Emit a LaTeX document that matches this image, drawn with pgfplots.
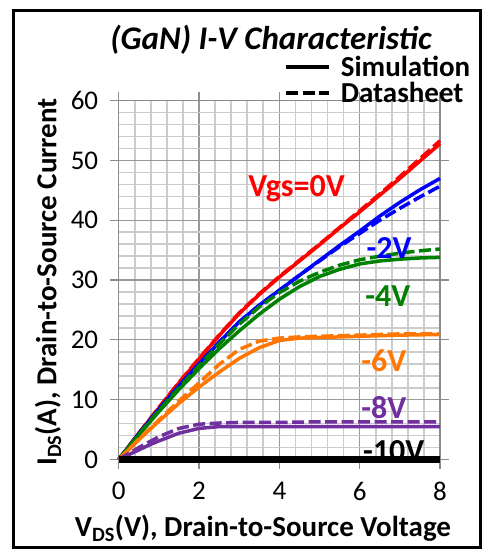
\documentclass[border=0pt]{standalone}
\usepackage{fontspec}
\setmainfont{Carlito}
\usepackage{pgfplots}
\pgfplotsset{compat=1.18}
\definecolor{cRed}{RGB}{255,0,0}
\definecolor{cBlue}{RGB}{0,0,255}
\definecolor{cGreen}{RGB}{0,128,0}
\definecolor{cOrange}{RGB}{255,118,0}
\definecolor{cPurple}{RGB}{112,48,160}
\tikzset{sim/.style={line width=3.5bp}, dat/.style={line width=3.5bp, dash pattern=on 12bp off 4.5bp}}
\begin{document}
\begin{tikzpicture}
\useasboundingbox (0bp,0bp) rectangle (483bp,549bp);
\draw[line width=3bp] (13.5bp,1.5bp) rectangle (480bp,538.5bp);
\begin{axis}[
  at={(118.7bp,89.5bp)}, anchor=south west,
  scale only axis, width=321.3bp, height=358.8bp,
  xmin=0, xmax=8, ymin=0, ymax=60,
  xtick={0,2,4,6,8}, ytick={0,10,20,30,40,50,60},
  minor x tick num=4, minor y tick num=4,
  grid=both,
  major grid style={draw=black!40, line width=1.2bp},
  minor grid style={draw=black!20, line width=1.6bp},
  axis line style={draw=black!45, line width=1.2bp},
  tick align=outside, major tick length=9bp, minor tick length=0bp,
  tick style={draw=black!45, line width=1.2bp},
  /pgf/number format/assume math mode=true,
  ticklabel style={font=\fontsize{27bp}{30bp}\selectfont},
  xticklabel style={yshift=-10bp},
  yticklabel style={xshift=-8bp},
  clip=false,
  title={\itshape (GaN) I-V Characteristic},
  title style={at={(axis description cs:0.474,1.154)}, anchor=center, font=\bfseries\fontsize{33bp}{36bp}\selectfont},
  xlabel={V\textsubscript{DS}(V), Drain-to-Source Voltage},
  ylabel={I\textsubscript{DS}(A), Drain-to-Source Current},
  xlabel style={at={(axis description cs:0.449,-0.191)}, anchor=center, font=\bfseries\fontsize{29bp}{32bp}\selectfont},
  ylabel style={at={(axis description cs:-0.22,0.495)}, anchor=center, font=\bfseries\fontsize{29bp}{32bp}\selectfont},
  legend style={at={(axis description cs:0.515,1.13)}, anchor=north west, draw=none, fill=none,
    font=\bfseries\fontsize{29bp}{30bp}\selectfont, row sep=0bp, inner sep=0pt,
    /tikz/every odd column/.append style={column sep=8bp}},
  legend cell align=left,
  legend image code/.code={\draw[#1] (0bp,0bp) -- (43bp,0bp);},
]
\addlegendimage{sim, black}
\addlegendentry{Simulation}
\addlegendimage{dat, black}
\addlegendentry{Datasheet}
% Vgs = 0 V
\addplot[sim, cRed, forget plot] coordinates {(0,0) (0.5,4.4) (1,8.6) (1.5,12.8) (2,16.8) (2.5,20.7) (3,24.4) (3.5,27.6) (4,30.5) (4.5,33.2) (5,35.9) (5.5,38.7) (6,41.4) (6.5,44.2) (7,47.0) (7.5,49.9) (8,52.8)};
\addplot[dat, cRed, forget plot] coordinates {(0,0) (0.5,4.4) (1,8.7) (1.5,12.9) (2,16.9) (2.5,20.8) (3,24.5) (3.5,27.7) (4,30.6) (4.5,33.3) (5,36.0) (5.5,38.8) (6,41.6) (6.5,44.4) (7,47.3) (7.5,50.3) (8,53.3)};
% Vgs = -2 V
\addplot[sim, cBlue, forget plot] coordinates {(0,0) (0.5,4.3) (1,8.4) (1.5,12.3) (2,16.0) (2.5,19.6) (3,23.0) (3.5,25.8) (4,28.3) (4.5,30.8) (5,33.3) (5.5,35.8) (6,38.2) (6.5,40.7) (7,43.0) (7.5,45.1) (8,47.0)};
\addplot[dat, cBlue, forget plot] coordinates {(0,0) (0.5,4.3) (1,8.4) (1.5,12.3) (2,16.0) (2.5,19.6) (3,23.0) (3.5,25.8) (4,28.3) (4.5,30.8) (5,33.2) (5.5,35.6) (6,37.8) (6.5,40.0) (7,42.0) (7.5,43.9) (8,45.7)};
% Vgs = -4 V
\addplot[sim, cGreen, forget plot] coordinates {(0,0) (0.5,4.1) (1,8.0) (1.5,11.7) (2,15.2) (2.5,18.5) (3,21.5) (3.5,24.3) (4,26.8) (4.5,28.9) (5,30.6) (5.5,31.8) (6,32.7) (6.5,33.2) (7,33.5) (7.5,33.7) (8,33.8)};
\addplot[dat, cGreen, forget plot] coordinates {(0,0) (0.5,4.2) (1,8.2) (1.5,12.0) (2,15.7) (2.5,19.3) (3,22.6) (3.5,25.5) (4,27.9) (4.5,29.8) (5,31.3) (5.5,32.5) (6,33.4) (6.5,34.0) (7,34.5) (7.5,34.9) (8,35.2)};
% Vgs = -6 V
\addplot[sim, cOrange, forget plot] coordinates {(0,0) (0.5,3.3) (1,6.4) (1.5,9.4) (2,12.1) (2.5,14.6) (3,16.9) (3.5,18.7) (4,19.9) (4.5,20.3) (5,20.4) (6,20.6) (7,20.8) (8,20.9)};
\addplot[dat, cOrange, forget plot] coordinates {(0,0) (0.5,3.4) (1,6.6) (1.5,9.8) (2,12.8) (2.5,15.9) (3,18.4) (3.5,19.8) (4,20.3) (4.5,20.5) (5,20.6) (6,20.8) (7,21.0) (8,21.0)};
% Vgs = -8 V
\addplot[sim, cPurple, forget plot] coordinates {(0,0) (0.25,0.8) (0.5,1.6) (0.75,2.4) (1,3.1) (1.5,4.4) (2,5.2) (2.5,5.5) (3,5.5) (4,5.5) (5,5.5) (6,5.5) (7,5.5) (8,5.5)};
\addplot[dat, cPurple, forget plot] coordinates {(0,0) (0.25,1.0) (0.5,2.0) (0.75,2.9) (1,3.8) (1.5,5.2) (2,5.9) (2.5,6.1) (3,6.2) (4,6.2) (5,6.3) (6,6.3) (7,6.3) (8,6.3)};
\node[text=black, font=\bfseries\fontsize{32bp}{36bp}\selectfont, anchor=base] at (axis cs:6.85,-0.3) {-10V};
% Vgs = -10 V
\addplot[line width=6.5bp, black, forget plot] coordinates {(0,0) (8,0)};
\node[text=cRed, font=\bfseries\fontsize{32bp}{36bp}\selectfont] at (axis cs:4.43,45.2) {Vgs=0V};
\node[text=cBlue, font=\bfseries\fontsize{32bp}{36bp}\selectfont] at (axis cs:6.73,35.4) {-2V};
\node[text=cGreen, font=\bfseries\fontsize{32bp}{36bp}\selectfont] at (axis cs:6.7,27.4) {-4V};
\node[text=cOrange, font=\bfseries\fontsize{32bp}{36bp}\selectfont] at (axis cs:6.6,16.6) {-6V};
\node[text=cPurple, font=\bfseries\fontsize{32bp}{36bp}\selectfont] at (axis cs:6.6,8.75) {-8V};
\end{axis}
\end{tikzpicture}
\end{document}
